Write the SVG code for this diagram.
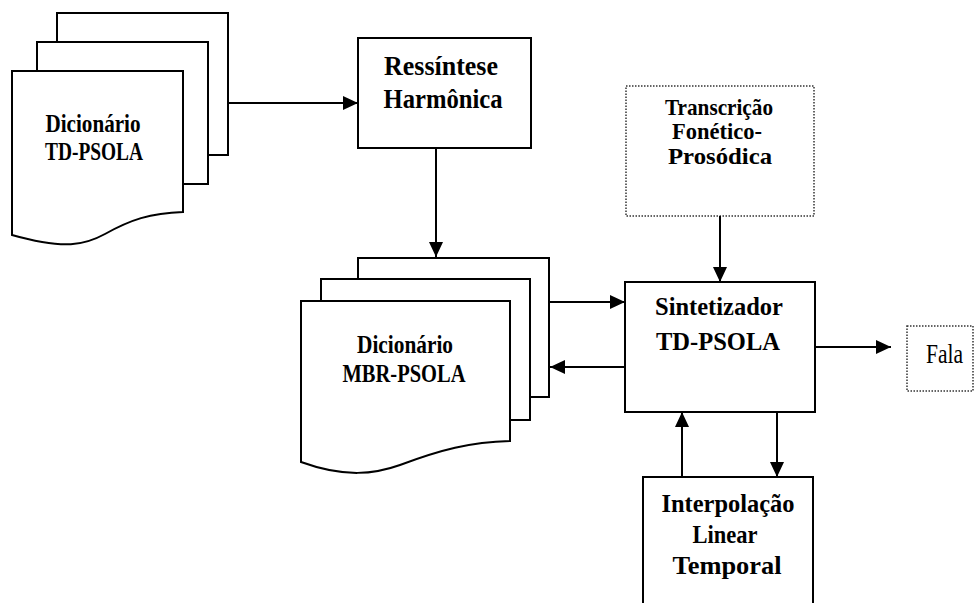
<svg xmlns="http://www.w3.org/2000/svg" width="975" height="603" viewBox="0 0 975 603">
<defs>
<marker id="ah" markerUnits="userSpaceOnUse" markerWidth="16" markerHeight="14" refX="15" refY="7" orient="auto">
<path d="M0,0 L15,7 L0,14 Z" fill="#000"/>
</marker>
<style>
.sh{fill:#fff;stroke:#000;stroke-width:2}
.bx{fill:#fff;stroke:#000;stroke-width:2}
.dt{fill:#fff;stroke:#333;stroke-width:1.5;stroke-dasharray:1.5 1.5}
.t{font-family:"Liberation Serif","Times New Roman",serif;font-weight:bold;text-anchor:middle;fill:#000}
.r{font-family:"Liberation Serif","Times New Roman",serif;fill:#000}
.c{fill:none;stroke:#000;stroke-width:2;marker-end:url(#ah)}
</style>
</defs>
<rect width="975" height="603" fill="#fff"/>
<g id="dic-td">
<rect class="sh" x="57" y="13" width="171" height="142"/>
<rect class="sh" x="37" y="42" width="171" height="142"/>
<path class="sh" d="M12,71 H183 V212 C150,213 130,220 105,234 C85,245 65,250 12,235 Z"/>
<text class="t" x="93" y="132" font-size="25" textLength="95" lengthAdjust="spacingAndGlyphs">Dicionário</text>
<text class="t" x="94" y="160" font-size="25" textLength="98" lengthAdjust="spacingAndGlyphs">TD-PSOLA</text>
</g>
<g id="ressintese">
<rect class="bx" x="358" y="38" width="173" height="110"/>
<text class="t" x="441" y="75" font-size="27" textLength="114" lengthAdjust="spacingAndGlyphs">Ressíntese</text>
<text class="t" x="443" y="108" font-size="27" textLength="119" lengthAdjust="spacingAndGlyphs">Harmônica</text>
</g>
<g id="transcricao">
<rect class="dt" x="626" y="86" width="188" height="130"/>
<text class="t" x="719" y="115" font-size="24" textLength="108" lengthAdjust="spacingAndGlyphs">Transcrição</text>
<text class="t" x="717" y="139" font-size="24" textLength="90" lengthAdjust="spacingAndGlyphs">Fonético-</text>
<text class="t" x="720" y="164" font-size="24" textLength="104" lengthAdjust="spacingAndGlyphs">Prosódica</text>
</g>
<g id="dic-mbr">
<rect class="sh" x="358" y="258" width="191" height="139"/>
<rect class="sh" x="321" y="279" width="209" height="141"/>
<path class="sh" d="M301,301 H510 V441 C470,442 440,450 400,465 C375,474 345,478 301,462 Z"/>
<text class="t" x="405" y="353" font-size="25" textLength="96" lengthAdjust="spacingAndGlyphs">Dicionário</text>
<text class="t" x="404" y="382" font-size="25" textLength="123" lengthAdjust="spacingAndGlyphs">MBR-PSOLA</text>
</g>
<g id="sintetizador">
<rect class="bx" x="625" y="282" width="190" height="130"/>
<text class="t" x="719" y="315" font-size="26" textLength="128" lengthAdjust="spacingAndGlyphs">Sintetizador</text>
<text class="t" x="718" y="350" font-size="26" textLength="124" lengthAdjust="spacingAndGlyphs">TD-PSOLA</text>
</g>
<g id="fala">
<rect class="dt" x="907" y="326" width="66" height="65"/>
<text class="r" x="926" y="363" font-size="28" textLength="37" lengthAdjust="spacingAndGlyphs">Fala</text>
</g>
<g id="interpolacao">
<rect class="bx" x="643" y="477" width="170" height="140"/>
<text class="t" x="728" y="512" font-size="25" textLength="133" lengthAdjust="spacingAndGlyphs">Interpolação</text>
<text class="t" x="725" y="543" font-size="25" textLength="65" lengthAdjust="spacingAndGlyphs">Linear</text>
<text class="t" x="727" y="574" font-size="25" textLength="109" lengthAdjust="spacingAndGlyphs">Temporal</text>
</g>
<g id="connectors">
<path class="c" d="M228,103 H358"/>
<path class="c" d="M436,148 V257"/>
<path class="c" d="M549,302 H625"/>
<path class="c" d="M625,367 H550"/>
<path class="c" d="M720,216 V282"/>
<path class="c" d="M815,347 H891"/>
<path class="c" d="M682,477 V412"/>
<path class="c" d="M777,412 V477"/>
</g>
</svg>
